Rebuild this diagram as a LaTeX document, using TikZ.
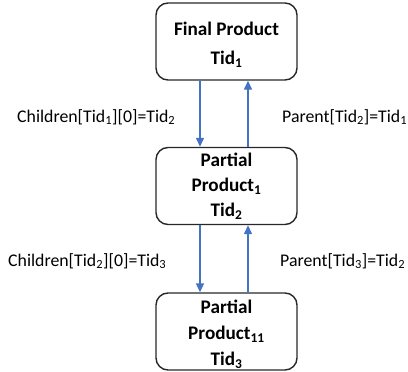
\documentclass[tikz,border=0pt]{standalone}
\usepackage{fontspec}
\setmainfont{Carlito}
\usetikzlibrary{arrows.meta}
\definecolor{arrowblue}{RGB}{68,114,196}
\definecolor{boxline}{RGB}{40,40,40}
\tikzset{
  prodbox/.style={draw=boxline, line width=1.4pt, rounded corners=12pt, minimum width=141pt, minimum height=77pt, inner sep=0pt},
  boxtext/.style={align=center, font=\fontsize{19.2}{25}\selectfont\bfseries, inner sep=0pt},
  link/.style={draw=arrowblue, line width=1.3pt, -{Triangle[length=9pt,width=8pt]}},
  lbl/.style={font=\fontsize{17.8}{20}\selectfont, anchor=west, inner sep=0pt}
}
\newcommand{\sbs}[1]{\textsubscript{#1}}
\begin{document}
\begin{tikzpicture}[x=1pt,y=1pt]
\useasboundingbox (0,0) rectangle (408,372);
\node[prodbox] (b1) at (226.5,330.5) {};
\node[prodbox] (b2) at (226.5,186) {};
\node[prodbox] (b3) at (226.5,40.5) {};
\node[boxtext, font=\fontsize{19.2}{29}\selectfont\bfseries] (t1) at ([yshift=-3pt]b1.center) {Final Product\\Tid\sbs{1}};
\node[boxtext] (t2) at ([yshift=-0.5pt]b2.center) {Partial\\Product\sbs{1}\\Tid\sbs{2}};
\node[boxtext, font=\fontsize{19.2}{26}\selectfont\bfseries] (t3) at ([yshift=-3pt]b3.center) {Partial\\Product\sbs{11}\\Tid\sbs{3}};
\draw[link] (b1.south -| 200,0) -- (b2.north -| 200,0);
\draw[link] (b2.north -| 248,0) -- (b1.south -| 248,0);
\draw[link] (b2.south -| 200,0) -- (b3.north -| 200,0);
\draw[link] (b3.north -| 248,0) -- (b2.south -| 248,0);
\node[lbl] (c1) at (17,255) {Children[Tid\sbs{1}][0]=Tid\sbs{2}};
\node[lbl] (p1) at (282,255) {Parent[Tid\sbs{2}]=Tid\sbs{1}};
\node[lbl] (c2) at (8,111) {Children[Tid\sbs{2}][0]=Tid\sbs{3}};
\node[lbl] (p2) at (280,111) {Parent[Tid\sbs{3}]=Tid\sbs{2}};
\end{tikzpicture}
\end{document}
